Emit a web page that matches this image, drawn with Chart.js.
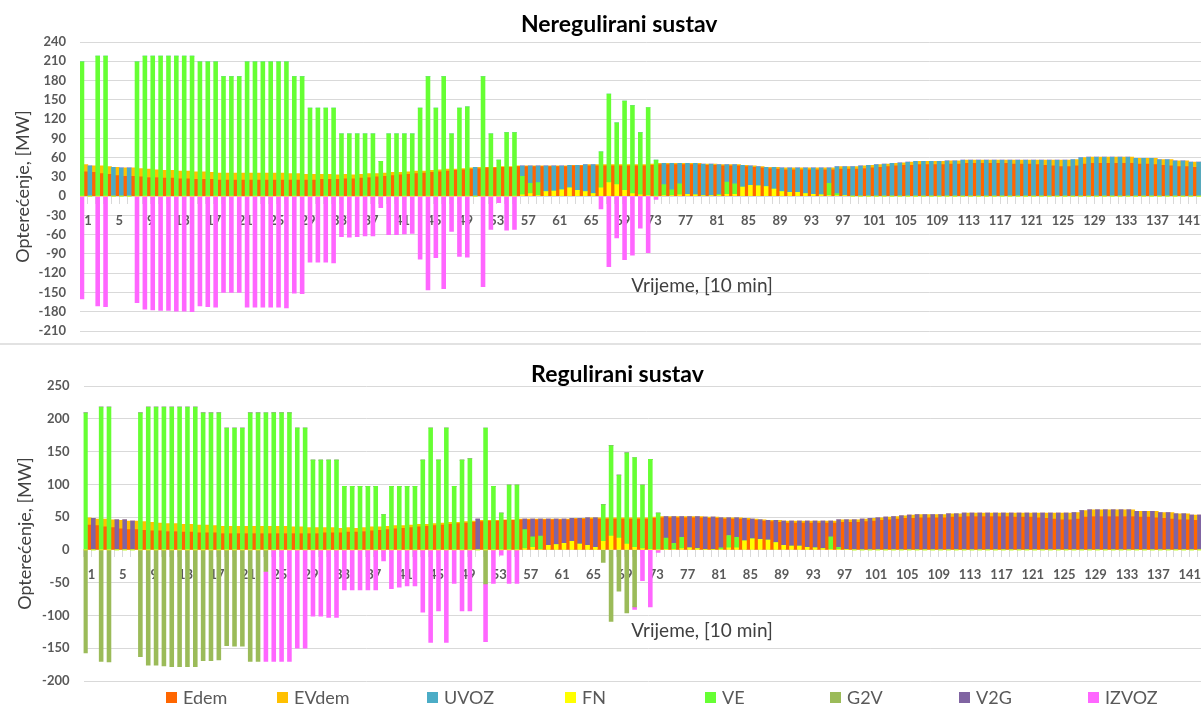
<!DOCTYPE html>
<html><head><meta charset="utf-8">
<script src="https://cdn.jsdelivr.net/npm/chart.js@4.4.1/dist/chart.umd.min.js"></script>
<style>
html,body{margin:0;padding:0;background:#fff;}
body{width:1201px;height:707px;overflow:hidden;position:relative;font-family:Lato, sans-serif;}
canvas{position:absolute;left:0;}
#top{top:0}
#bot{top:345px}
#sep{position:absolute;left:0;top:343px;width:1201px;border-top:2px solid #E2E2E2;}
#legend{position:absolute;left:0;top:687px;width:1201px;height:20px;font-size:18px;color:#595959;line-height:20px;}
.li{position:absolute;top:0;display:flex;align-items:center;white-space:nowrap}
.sw{width:11px;height:11px;margin-right:6px}
</style></head><body>
<canvas id="top" width="1240" height="353"></canvas>
<div id="sep"></div>
<canvas id="bot" width="1240" height="362"></canvas>
<div id="legend"></div>
<script>
const categories = Array.from({length: 144}, (_, i) => String(i + 1));

const edem = [
38,37,35,34,32,31,31,30,29,29,28,28,
27,27,26,26,26,25,25,25,25,25,25,25,
25,25,25,25,25,25,26,26,26,27,27,28,
29,30,31,32,33,34,35,36,37,38,39,40,
41,42,43,44,44,45,45,46,46,46,46,46,
46,46,47,47,47,47,47,47,47,47,47,47,
48,49,49,49,49,49,49,48,48,47,47,47,
46,45,44,43,42,41,41,41,41,41,41,41,
42,42,42,43,44,45,46,47,48,48,49,49,
49,49,50,50,51,51,51,51,51,51,50,50,
50,49,48,47,46,46,47,50,51,51,51,51,
51,51,50,50,49,48,47,46,46,45,45,44];

const evdem = [
11,10,12,12,13,13,13,13,13,12,12,12,
12,12,12,12,11,11,11,11,11,11,11,11,
11,11,10,10,9,9,8,8,7,7,6,6,
6,5,5,5,4,4,4,3,3,3,3,2,
2,2,2,1,1,1,1,1,1,1,1,1,
1,1,1,1,2,2,2,2,2,2,2,2,
2,2,2,2,2,2,2,2,2,2,2,2,
2,2,2,2,3,3,3,3,3,3,3,3,
4,4,4,4,4,4,4,4,4,5,5,5,
5,5,5,5,5,5,5,5,5,5,6,6,
6,7,8,9,10,10,10,10,10,10,10,10,
10,10,9,9,10,9,10,9,9,8,8,8];

const fn = [
0,0,0,0,0,0,0,0,0,0,0,0,
0,0,0,0,0,0,0,0,0,0,0,0,
0,0,0,0,0,0,0,0,0,0,0,0,
0,0,0,0,0,0,0,0,0,0,0,0,
0,0,0,0,0,0,0,0,2,4,1,7,
8,10,13,9,7,4,13,21,18,9,4,2,
1,0,1,1,2,3,2,1,1,1,3,3,
14,17,16,15,11,7,6,6,4,3,2,1,
1,1,0,0,0,0,0,0,0,0,0,0,
0,0,0,0,0,0,0,0,0,0,0,0,
0,0,0,0,0,0,0,0,0,0,0,0,
0,0,0,0,0,0,0,0,0,0,0,0];

const ve = [
209,0,218,218,0,0,0,209,218,218,218,218,
218,218,218,209,209,209,186,186,186,209,209,209,
209,209,209,186,186,137,137,137,137,97,97,97,
97,97,54,97,97,97,97,137,186,137,186,97,
137,139,0,186,97,56,99,99,29,16,20,0,
0,0,0,0,0,0,56,138,96,139,137,97,
137,56,17,9,17,0,0,0,0,2,19,16,
0,0,0,0,0,0,0,0,0,0,0,19,
3,0,0,0,0,0,0,0,0,0,0,0,
0,0,0,0,0,0,0,0,0,0,0,0,
0,0,0,0,0,0,0,0,0,0,0,0,
0,0,0,0,0,0,0,0,0,0,0,0];

const uvozNereg = [
0,47,0,0,45,44,44,0,0,0,0,0,
0,0,0,0,0,0,0,0,0,0,0,0,
0,0,0,0,0,0,0,0,0,0,0,0,
0,0,0,0,0,0,0,0,0,0,0,0,
0,0,45,0,0,0,0,0,16,27,26,40,
39,37,35,39,42,45,0,0,0,0,0,0,
0,0,33,41,32,48,49,49,49,46,27,30,
34,30,30,30,34,37,38,38,40,41,42,24,
42,45,46,47,48,49,50,51,52,53,54,54,
54,54,55,55,56,56,56,56,56,56,56,56,
56,56,56,56,56,56,57,60,61,61,61,61,
61,61,59,59,59,57,57,55,55,53,53,52];

const izvozNereg = [
-160,0,-171,-172,0,0,0,-166,-176,-177,-178,-178,
-179,-179,-180,-171,-172,-173,-150,-150,-150,-173,-173,-173,
-173,-173,-174,-151,-152,-103,-103,-103,-104,-63,-64,-63,
-62,-62,-18,-60,-60,-59,-58,-98,-146,-96,-144,-55,
-94,-95,0,-141,-52,-10,-53,-52,0,0,0,0,
0,0,0,0,0,0,-20,-110,-65,-99,-92,-50,
-88,-5,0,0,0,0,0,0,0,0,0,0,
0,0,0,0,0,0,0,0,0,0,0,0,
0,0,0,0,0,0,0,0,0,0,0,0,
0,0,0,0,0,0,0,0,0,0,0,0,
0,0,0,0,0,0,0,0,0,0,0,0,
0,0,0,0,0,0,0,0,0,0,0,0];

const v2gReg = [
0,48,0,0,46,46,44,0,0,0,0,0,
0,0,0,0,0,0,0,0,0,0,0,0,
0,0,0,0,0,0,0,0,0,0,0,0,
0,0,0,0,0,0,0,0,0,0,0,0,
0,0,47,0,0,0,0,0,16,27,26,40,
39,37,35,39,42,45,0,0,0,0,0,0,
0,0,33,41,32,48,49,49,49,46,27,30,
34,30,30,30,34,37,38,38,40,41,42,24,
42,45,46,47,48,49,50,51,52,53,54,54,
54,54,55,55,56,56,56,56,56,56,56,56,
56,56,56,56,56,56,57,60,61,61,61,61,
61,61,59,59,59,57,57,55,55,53,53,52];

const g2vReg = [
-157,0,-170,-171,0,0,0,-163,-176,-176,-177,-178,
-178,-178,-178,-169,-169,-168,-146,-147,-147,-170,-170,-33,
0,0,0,0,0,0,0,0,0,0,0,0,
0,0,0,0,0,0,0,0,0,0,0,0,
0,0,0,-52,0,0,0,0,0,0,0,0,
0,0,0,0,0,0,-19,-109,-63,-96,-87,0,
0,0,0,0,0,0,0,0,0,0,0,0,
0,0,0,0,0,0,0,0,0,0,0,0,
0,0,0,0,0,0,0,0,0,0,0,0,
0,0,0,0,0,0,0,0,0,0,0,0,
0,0,0,0,0,0,0,0,0,0,0,0,
0,0,0,0,0,0,0,0,0,0,0,0];

const izvozReg = [
0,0,0,0,0,0,0,0,0,0,0,0,
0,0,0,0,0,0,0,0,0,0,0,-137,
-170,-170,-170,-150,-150,-101,-101,-103,-103,-61,-61,-61,
-61,-61,-17,-59,-57,-55,-55,-95,-141,-93,-141,-51,
-93,-93,0,-88,-51,-8,-51,-51,0,0,0,0,
0,0,0,0,0,0,0,0,0,0,-4,-47,
-87,-4,0,0,0,0,0,0,0,0,0,0,
0,0,0,0,0,0,0,0,0,0,0,0,
0,0,0,0,0,0,0,0,0,0,0,0,
0,0,0,0,0,0,0,0,0,0,0,0,
0,0,0,0,0,0,0,0,0,0,0,0,
0,0,0,0,0,0,0,0,0,0,0,0];

const legendOrder = ['Edem','EVdem','UVOZ','FN','VE','G2V','V2G','IZVOZ'];
const legendLeft = [166, 277, 427, 565, 705, 830, 959, 1088];
const colors = {Edem:'#FF6600', EVdem:'#FFC000', UVOZ:'#4BACC6', FN:'#FFFF00', VE:'#66FF33', G2V:'#9BBB59', V2G:'#8064A2', IZVOZ:'#FF66FF'};

Chart.defaults.font.family = 'Lato';

const axisNote = {
  id: 'axisNote',
  afterDraw(chart, args, opts) {
    if (!opts || !opts.text) return;
    const ctx = chart.ctx;
    ctx.save();
    ctx.font = '19px Lato';
    ctx.fillStyle = '#404040';
    ctx.textAlign = 'center';
    ctx.textBaseline = 'middle';
    ctx.fillText(opts.text, opts.x, opts.y);
    ctx.restore();
  }
};

function ds(label, data, stack) {
  return {label, data, stack, backgroundColor: colors[label], borderWidth: 0,
          categoryPercentage: 1, barPercentage: 1};
}

function makeOptions(cfg) {
  const tickFont = {family: 'Lato', size: 13, weight: 'bold'};
  return {
    responsive: false, animation: false, devicePixelRatio: 1,
    layout: {padding: {left: cfg.padLeft, right: cfg.padRight, top: 0, bottom: cfg.padBottom}},
    plugins: {
      legend: {display: false},
      tooltip: {enabled: false},
      title: {display: true, text: cfg.title, color: '#000',
              font: {family: 'Lato', size: 23, weight: 'bold'},
              padding: {top: cfg.titleTop, bottom: cfg.titleBottom}},
      axisNote: {text: 'Vrijeme, [10 min]', x: 702, y: 286}
    },
    scales: {
      x: {
        position: {y: 0}, z: 1,
        grid: {display: true, drawOnChartArea: false, drawTicks: true, tickLength: 7, color: '#D9D9D9', offset: true},
        border: {display: true, color: '#D9D9D9', width: 1},
        ticks: {autoSkip: false, maxRotation: 0, minRotation: 0, padding: 10, labelOffset: 4,
                color: '#595959', font: tickFont,
                callback: (v, i) => (i % 4 === 0 ? categories[i] : '')}
      },
      y: {
        stacked: true, min: cfg.min, max: cfg.max,
        ticks: {stepSize: cfg.step, padding: 14, color: '#595959', font: tickFont},
        grid: {color: '#D9D9D9', drawTicks: false, lineWidth: 1},
        border: {display: false},
        title: {display: true, text: 'Opterećenje, [MW]', color: '#404040',
                font: {family: 'Lato', size: 18}, padding: {top: cfg.yTitlePad, bottom: 0}},
        afterFit: s => { s.width = cfg.yWidth; }
      }
    }
  };
}

const topChart = new Chart(document.getElementById('top'), {
  type: 'bar',
  data: {labels: categories, datasets: [
    ds('FN', fn, 'B'), ds('VE', ve, 'B'), ds('UVOZ', uvozNereg, 'B'), ds('IZVOZ', izvozNereg, 'B'),
    ds('Edem', edem, 'A'), ds('EVdem', evdem, 'A')
  ]},
  options: makeOptions({title: 'Neregulirani sustav', min: -210, max: 240, step: 30,
    padLeft: 26, padRight: 27.6, padBottom: 22, titleTop: 11.2, titleBottom: 3.2,
    yWidth: 54, yTitlePad: -13.3}),
  plugins: [axisNote]
});

const botChart = new Chart(document.getElementById('bot'), {
  type: 'bar',
  data: {labels: categories, datasets: [
    ds('FN', fn, 'B'), ds('VE', ve, 'B'), ds('UVOZ', [], 'B'), ds('V2G', v2gReg, 'B'),
    ds('G2V', g2vReg, 'B'), ds('IZVOZ', izvozReg, 'B'),
    ds('Edem', edem, 'A'), ds('EVdem', evdem, 'A')
  ]},
  options: makeOptions({title: 'Regulirani sustav', min: -200, max: 250, step: 50,
    padLeft: 21.8, padRight: 26.8, padBottom: 26, titleTop: 16.2, titleBottom: -2.8,
    yWidth: 61.7, yTitlePad: -7.1}),
  plugins: [axisNote]
});

// HTML legend built from the bottom chart's datasets
const legendEl = document.getElementById('legend');
botChart.data.datasets
  .slice()
  .sort((a, b) => legendOrder.indexOf(a.label) - legendOrder.indexOf(b.label))
  .forEach((d, i) => {
    const item = document.createElement('div');
    item.className = 'li';
    item.style.left = legendLeft[i] + 'px';
    const sw = document.createElement('span');
    sw.className = 'sw';
    sw.style.background = d.backgroundColor;
    const tx = document.createElement('span');
    tx.textContent = d.label;
    item.appendChild(sw); item.appendChild(tx);
    legendEl.appendChild(item);
  });
</script></body></html>
